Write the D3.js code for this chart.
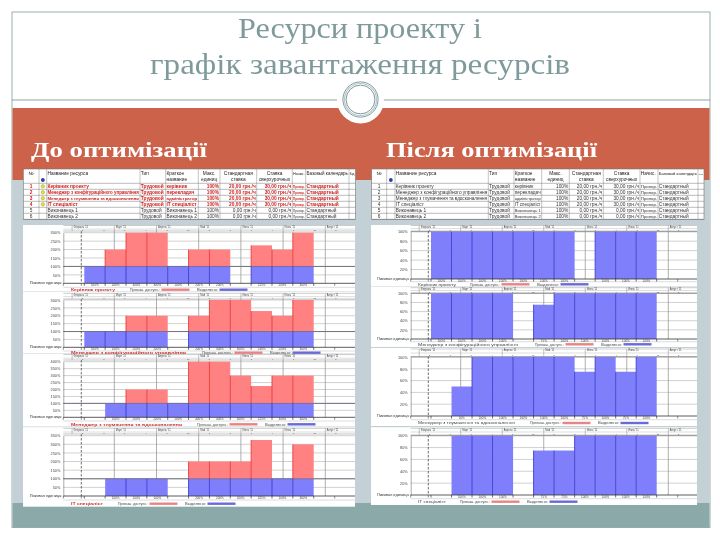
<!DOCTYPE html>
<html><head><meta charset="utf-8">
<style>html,body{margin:0;padding:0;background:#fff}svg{display:block}</style>
<script src="https://cdn.jsdelivr.net/npm/d3@7/dist/d3.min.js"></script></head><body>
<script>
const titleLines = ["Ресурси проекту і", "графік завантаження ресурсів"];
const sideTitles = ["До оптимізації", "Після оптимізації"];
const columns = ["w1","w2","w3","w4","w5","w6","w7","w8","w9","w10","w11"];
const months = ["Февраль '11","Март '11","Апрель '11","Май '11","Июнь '11","Июль '11","Август '11"];
const subTicks = ["5","8","1","4","7","10"];
const headers = ["№","","Название ресурса","Тип","Краткое название","Макс. единиц","Стандартная ставка","Ставка сверхурочных","Начис.","Базовый календарь","Код"];
const ids = ["1","2","3","4","5","6"];
const names = ["Керівник проекту","Менеджер з конфігураційного управління","Менеджер з тлумачення та вдосконалення","IT спеціаліст","Виконавець 1","Виконавець 2"];
const types = ["Трудовой","Трудовой","Трудовой","Трудовой","Трудовой","Трудовой"];
const shorts = ["керівник","перекладач","адміністратор","IT спеціаліст","Виконавець 1","Виконавець 2"];
const maxUnits = ["100%","100%","100%","100%","100%","100%"];
const stdRates = ["20,00 грн./ч","20,00 грн./ч","20,00 грн./ч","20,00 грн./ч","0,00 грн./ч","0,00 грн./ч"];
const otRates = ["30,00 грн./ч","30,00 грн./ч","30,00 грн./ч","30,00 грн./ч","0,00 грн./ч","0,00 грн./ч"];
const accrual = ["Пропор.","Пропор.","Пропор.","Пропор.","Пропор.","Пропор."];
const calendars = ["Стандартный","Стандартный","Стандартный","Стандартный","Стандартный","Стандартный"];
const overRows = [true,true,true,true,false,false];

const legendNames = ["Керівник проекту","Менеджер з конфігураційного управління","Менеджер з тлумачення та вдосконалення","IT спеціаліст"];
const legendOver = "Превыш. доступн.:";
const legendAlloc = "Выделено:";
const peakLabel = "Пиковая единица:";

// Resource load (%), one value per week; null means no assignment
const before1Load = [100,200,300,300,100,200,200,null,225,200,300];
const before2Load = [100,100,200,200,null,200,300,300,230,200,300];
const before3Load = [null,100,200,200,100,400,400,300,225,300,300];
const before4Load = [null,100,100,100,null,200,200,200,325,100,300];
const after1Load  = [100,100,100,100,100,100,100,null,100,100,100];
const after2Load  = [100,100,100,100,null,75,100,100,100,100,100];
const after3Load  = [null,50,100,100,100,100,100,75,100,75,100];
const after4Load  = [null,100,100,100,null,75,75,100,100,100,100];
const before1Ticks = [50,100,150,200,250,300];
const before3Ticks = [50,100,150,200,250,300,350,400];
const before4Ticks = [50,100,150,200,250,300,350];
const afterTicks = [20,40,60,80,100];

const svg = d3.select("body").append("svg").attr("width",720).attr("height",540);
const defs = svg.append("defs");
defs.append("filter").attr("id","soft").attr("x","-2%").attr("y","-2%").attr("width","104%").attr("height","104%")
  .append("feGaussianBlur").attr("stdDeviation",0.38);
defs.append("filter").attr("id","soft2").attr("x","-2%").attr("y","-5%").attr("width","104%").attr("height","110%")
  .append("feGaussianBlur").attr("stdDeviation",0.3);

const frameC = "#7f9b9c";
// slide
svg.append("rect").attr("x",12).attr("y",12).attr("width",698).attr("height",515.5).attr("fill","#fff").attr("stroke",frameC).attr("stroke-width",0.8);
svg.append("rect").attr("x",12.5).attr("y",180).attr("width",697).attr("height",323).attr("fill","#c3d0d5");
svg.append("rect").attr("x",12.5).attr("y",108).attr("width",697).attr("height",72).attr("fill","#cb6249");
svg.append("rect").attr("x",12.5).attr("y",503).attr("width",697).attr("height",24.5).attr("fill","#8aa9a8");
svg.append("line").attr("x1",12).attr("x2",710).attr("y1",100).attr("y2",100).attr("stroke",frameC).attr("stroke-width",0.9);
svg.append("circle").attr("cx",360.5).attr("cy",100).attr("r",23.5).attr("fill","#fff");
svg.append("circle").attr("cx",360.5).attr("cy",99.5).attr("r",17.6).attr("fill","#fff").attr("stroke",frameC).attr("stroke-width",1);
svg.append("circle").attr("cx",360.5).attr("cy",99.5).attr("r",16).attr("fill","#fff").attr("stroke","#b6c7c7").attr("stroke-width",1.2);
svg.append("circle").attr("cx",360.5).attr("cy",99.5).attr("r",14.4).attr("fill","#fff").attr("stroke",frameC).attr("stroke-width",1);

const gTitle = svg.append("g").attr("filter","url(#soft2)");
gTitle.selectAll("text.t").data(titleLines).join("text").attr("class","t")
  .attr("x",360).attr("y",(d,i)=>[38,74][i]).attr("text-anchor","middle")
  .attr("font-family","Liberation Serif").attr("font-size",30).attr("fill","#7f9a9a")
  .attr("textLength",(d,i)=>[244,420][i]).attr("lengthAdjust","spacingAndGlyphs").text(d=>d);
gTitle.selectAll("text.s").data(sideTitles).join("text").attr("class","s")
  .attr("x",(d,i)=>[31,386][i]).attr("y",157)
  .attr("font-family","Liberation Serif").attr("font-weight","bold").attr("font-size",22)
  .attr("fill","#fff").attr("textLength",(d,i)=>[176,211][i]).attr("lengthAdjust","spacingAndGlyphs").text(d=>d);

// shrink a table text when it is wider than its narrow cell
function fit(sel,w){ sel.each(function(){ const n=this.getComputedTextLength(); if(n>w){ d3.select(this).attr("font-size",4.8*w/n); } }); }

// tables
function table(edges, rowFirstRed){
  const g = svg.append("g").attr("filter","url(#soft)");
  const x0=edges[0], x1=edges[edges.length-1], top=169, head=183.3, bot=219.3;
  g.append("rect").attr("x",x0).attr("y",top).attr("width",x1-x0).attr("height",bot-top).attr("fill","#fff").attr("stroke","#777").attr("stroke-width",0.6);
  const rowY = d3.scaleBand().domain(ids).range([head,bot]);
  g.selectAll("line.v").data(edges.slice(1,-1)).join("line").attr("class","v").attr("x1",d=>d).attr("x2",d=>d).attr("y1",top).attr("y2",bot).attr("stroke","#888").attr("stroke-width",0.5);
  g.selectAll("line.h").data([head].concat(ids.map(i=>rowY(i)+rowY.bandwidth()))).join("line").attr("class","h")
    .attr("x1",x0).attr("x2",x1).attr("y1",d=>d).attr("y2",d=>d).attr("stroke","#777").attr("stroke-width",0.5);
  const cols = [ids,null,names,types,shorts,maxUnits,stdRates,otRates,accrual,calendars,null];
  const anchors = ["middle","start","start","start","start","end","end","end","start","start","start"];
  headers.forEach((h,c)=>{
    const w = edges[c+1]-edges[c];
    const words = h.split(" ");
    const center = c>=5 && c<=7;
    const hd = g.append("g").selectAll("text").data(c==2||c==9?[h]:words).join("text")
      .attr("x",edges[c]+(center||c==0?w/2:0.8)).attr("y",(d,i)=>top+5.5+i*6)
      .attr("text-anchor",center||c==0?"middle":"start")
      .attr("font-family","Liberation Sans").attr("font-size",4.8).attr("fill","#222").text(d=>d);
    fit(hd,w-1.8);
    if(cols[c]){
      const v = g.append("g").selectAll("text").data(cols[c]).join("text")
        .attr("x",edges[c]+(anchors[c]=="middle"?w/2:anchors[c]=="end"?w-1:0.8))
        .attr("y",(d,i)=>rowY(ids[i])+4.5).attr("text-anchor",anchors[c])
        .attr("font-family","Liberation Sans").attr("font-size",4.8)
        .attr("font-weight",(d,i)=>rowFirstRed&&overRows[i]?"bold":"normal")
        .attr("fill",(d,i)=>rowFirstRed&&overRows[i]?"#d0201f":"#333").text(d=>d);
      fit(v,w-1.8);
    }
  });
  g.append("circle").attr("cx",(edges[1]+edges[2])/2).attr("cy",180).attr("r",1.9).attr("fill","#2a3fa8");
  if(rowFirstRed) g.selectAll("circle.w").data(ids.filter((d,i)=>overRows[i])).join("circle").attr("class","w")
    .attr("cx",(edges[1]+edges[2])/2).attr("cy",d=>rowY(d)+rowY.bandwidth()/2).attr("r",1.7).attr("fill","#e8e23a").attr("stroke","#8a8a10").attr("stroke-width",0.4);
}
table([23.3,39,46.7,140,165.7,198.3,220,256.7,292.3,305.7,349,355.5],true);
table([371.7,386.7,395,488.3,514,541.7,569.3,603.3,640,658,698,704],false);

// charts
function chart(cfg){
  const g = svg.append("g").attr("filter","url(#soft)");
  const P = cfg.panel;
  g.append("rect").attr("x",P.x0).attr("y",cfg.y0).attr("width",P.x1-P.x0).attr("height",cfg.y1-cfg.y0).attr("fill","#fff");
  const x = d3.scaleBand().domain(columns).range(P.bars);
  const y = d3.scaleLinear().domain([0,cfg.max]).range([cfg.base,cfg.top]);
  const t = d3.scaleLinear().domain([1,6]).range(P.months);
  const cap = v=>Math.min(v,100);
  // horizontal grid
  g.append("g").selectAll("line").data(cfg.ticks).join("line")
    .attr("x1",P.axis).attr("x2",P.x1).attr("y1",d=>y(d)).attr("y2",d=>y(d))
    .attr("stroke",d=>d==100?"#777":"#bdbdbd").attr("stroke-width",d=>d==100?0.8:0.7);
  // month lines
  g.append("g").selectAll("line").data(d3.range(1,7)).join("line")
    .attr("x1",d=>t(d)).attr("x2",d=>t(d)).attr("y1",cfg.hdr).attr("y2",cfg.base)
    .attr("stroke","#9a9a9a").attr("stroke-width",0.8);
  // bars: allocated up to 100%, over-allocation above it
  const rows = columns.map((c,i)=>({c,v:cfg.load[i]})).filter(d=>d.v!==null);
  g.append("g").selectAll("rect").data(rows.filter(d=>d.v>100)).join("rect")
    .attr("x",d=>x(d.c)).attr("width",x.bandwidth()).attr("y",d=>y(d.v)).attr("height",d=>y(100)-y(d.v)).attr("fill","#ff8181");
  g.append("g").selectAll("rect").data(rows).join("rect")
    .attr("x",d=>x(d.c)).attr("width",x.bandwidth()).attr("y",d=>y(cap(d.v))).attr("height",d=>y(0)-y(cap(d.v))).attr("fill","#7f7ffb");
  // bar edges
  const inner = rows.slice(1);
  g.append("g").selectAll("line").data(inner.filter(d=>d.v>100)).join("line")
    .attr("x1",d=>x(d.c)).attr("x2",d=>x(d.c)).attr("y1",d=>y(d.v)).attr("y2",y(100)).attr("stroke","#ea3b3b").attr("stroke-width",0.9);
  g.append("g").selectAll("line").data(inner).join("line")
    .attr("x1",d=>x(d.c)).attr("x2",d=>x(d.c)).attr("y1",d=>y(cap(d.v))).attr("y2",y(0)).attr("stroke","#3d3dcf").attr("stroke-width",0.9);
  // 100% line over red bars
  if(cfg.max>100) g.append("line").attr("x1",P.axis).attr("x2",P.x1).attr("y1",y(100)).attr("y2",y(100)).attr("stroke","#55556e").attr("stroke-width",0.5);
  // current date marker
  g.append("line").attr("x1",P.now).attr("x2",P.now).attr("y1",cfg.hdr).attr("y2",cfg.base).attr("stroke","#333").attr("stroke-width",0.7).attr("stroke-dasharray","2.5,1.5");
  // axis
  const ax = g.append("g").attr("transform",`translate(${P.axis},0)`).call(d3.axisLeft(y).tickValues(cfg.ticks).tickSize(0).tickPadding(3).tickFormat(d=>d+"%"));
  ax.select(".domain").attr("stroke","#555").attr("stroke-width",0.5);
  ax.selectAll("text").attr("font-family","Liberation Sans").attr("font-size",3.8).attr("fill","#444");
  // timescale header
  const hy = cfg.hdr0;
  const h = g.append("g");
  h.append("line").attr("x1",P.axis).attr("x2",P.x1).attr("y1",hy).attr("y2",hy).attr("stroke","#999").attr("stroke-width",0.5);
  h.append("line").attr("x1",P.axis).attr("x2",P.x1).attr("y1",(hy+cfg.top)/2).attr("y2",(hy+cfg.top)/2).attr("stroke","#aaa").attr("stroke-width",0.4);
  h.append("line").attr("x1",P.axis).attr("x2",P.x1).attr("y1",cfg.hdr).attr("y2",cfg.hdr).attr("stroke","#888").attr("stroke-width",0.5);
  h.selectAll("text.m").data(months).join("text").attr("class","m")
    .attr("x",(d,i)=>t(i)+1.5).attr("y",hy+2.4).attr("font-family","Liberation Sans").attr("font-size",2.6).attr("fill","#444").text(d=>d);
  h.selectAll("text.n").data(d3.range(0,13)).join("text").attr("class","n")
    .attr("x",d=>t(d/2+0.25)).attr("y",cfg.hdr-0.2).attr("text-anchor","middle").attr("font-family","Liberation Sans").attr("font-size",2.2).attr("fill","#444")
    .text(d=>t(d/2+0.25)<P.x1-2?subTicks[d%subTicks.length]:"");
  h.selectAll("line.mt").data(d3.range(0,7)).join("line").attr("class","mt")
    .attr("x1",d=>t(d)).attr("x2",d=>t(d)).attr("y1",hy).attr("y2",cfg.hdr).attr("stroke","#888").attr("stroke-width",0.5)
    .attr("opacity",d=>t(d)>P.axis?1:0);
  // peak row
  const by = cfg.bottom;
  g.append("line").attr("x1",P.axis).attr("x2",P.x1).attr("y1",cfg.base).attr("y2",cfg.base).attr("stroke","#333").attr("stroke-width",0.8);
  g.append("line").attr("x1",P.axis).attr("x2",P.x1).attr("y1",by).attr("y2",by).attr("stroke","#bbb").attr("stroke-width",0.5);
  g.append("g").selectAll("line").data(columns.concat(["e"])).join("line")
    .attr("x1",d=>d=="e"?P.bars[1]:x(d)).attr("x2",d=>d=="e"?P.bars[1]:x(d)).attr("y1",cfg.base).attr("y2",cfg.base+2.5).attr("stroke","#333").attr("stroke-width",0.7);
  g.append("g").selectAll("line").data([P.axis,P.now,P.bars[1]+21]).join("line")
    .attr("x1",d=>d).attr("x2",d=>d).attr("y1",cfg.base).attr("y2",cfg.base+2.5).attr("stroke","#444").attr("stroke-width",0.6);
  g.append("g").selectAll("text").data(rows).join("text")
    .attr("x",d=>x(d.c)+x.bandwidth()/2).attr("y",cfg.base+2.6).attr("text-anchor","middle")
    .attr("font-family","Liberation Sans").attr("font-size",3).attr("fill","#444").text(d=>d.v+"%");
  g.append("text").attr("x",P.axis-1).attr("y",cfg.base+0.8).attr("text-anchor","end").attr("font-family","Liberation Sans").attr("font-size",3.9).attr("fill","#333").text(peakLabel);
  // legend
  const L = cfg.legend, ly = cfg.legY, fs = 3.4;
  g.append("text").attr("x",L[0]).attr("y",ly+1.2).attr("font-family","Liberation Sans").attr("font-size",fs)
    .attr("font-weight",cfg.red?"bold":"normal").attr("fill",cfg.red?"#cc3333":"#444").attr("textLength",L[1]-L[0]).attr("lengthAdjust","spacingAndGlyphs").text(cfg.name);
  g.append("text").attr("x",L[2]).attr("y",ly+1.2).attr("font-family","Liberation Sans").attr("font-size",fs).attr("fill","#444").attr("textLength",L[3]-L[2]).attr("lengthAdjust","spacingAndGlyphs").text(legendOver);
  g.append("rect").attr("x",L[3]+1.5).attr("y",ly-1.2).attr("width",28).attr("height",2.4).attr("fill","#ea8484");
  g.append("text").attr("x",L[4]).attr("y",ly+1.2).attr("font-family","Liberation Sans").attr("font-size",fs).attr("fill","#444").attr("textLength",L[5]-L[4]).attr("lengthAdjust","spacingAndGlyphs").text(legendAlloc);
  g.append("rect").attr("x",L[5]+1.5).attr("y",ly-1.2).attr("width",28).attr("height",2.4).attr("fill","#6b6bd8");
}
const LP = {x0:23,x1:355,axis:63.3,now:81.3,bars:[84.3,313.7],months:[114.3,325.3]};
const RP = {x0:371,x1:697,axis:410.7,now:428.3,bars:[431,656.7],months:[460.7,668.3]};
[
 {panel:LP,load:before1Load,max:300,ticks:before1Ticks,y0:225,y1:291.5,hdr0:225.5,hdr:231,top:232.7,base:283.3,bottom:287.3,legY:289.7,name:legendNames[0],legend:[71,115,130,160,197,218],red:true},
 {panel:LP,load:before2Load,max:300,ticks:before1Ticks,y0:292,y1:353.5,hdr0:293.3,hdr:299,top:300,base:347.3,bottom:351,legY:352.7,name:legendNames[1],legend:[71,186,202,233,270,291],red:true},
 {panel:LP,load:before3Load,max:400,ticks:before3Ticks,y0:354,y1:426.5,hdr0:354.6,hdr:360,top:361.7,base:417.3,bottom:421,legY:424.3,name:legendNames[2],legend:[71,182,197,228,265,286],red:true},
 {panel:LP,load:before4Load,max:350,ticks:before4Ticks,y0:427.2,y1:506.7,hdr0:428.3,hdr:434,top:435.7,base:496,bottom:500,legY:503.7,name:legendNames[3],legend:[71,103,118,148,185,206],red:true},
 {panel:RP,load:after1Load,max:100,ticks:afterTicks,y0:225,y1:286.5,hdr0:225.5,hdr:231,top:231.7,base:279,bottom:281.7,legY:284.3,name:legendNames[0],legend:[418,456,470,500,537,559],red:false},
 {panel:RP,load:after2Load,max:100,ticks:afterTicks,y0:287,y1:347,hdr0:287.7,hdr:293,top:293.3,base:339,bottom:341.7,legY:344.3,name:legendNames[1],legend:[418,518,535,564,601,622],red:false},
 {panel:RP,load:after3Load,max:100,ticks:afterTicks,y0:348,y1:426,hdr0:349,hdr:356.5,top:357,base:416,bottom:419.7,legY:423,name:legendNames[2],legend:[418,515,530,561,598,619],red:false},
 {panel:RP,load:after4Load,max:100,ticks:afterTicks,y0:427.2,y1:505,hdr0:428.3,hdr:435,top:435.7,base:495,bottom:498.7,legY:501.7,name:legendNames[3],legend:[418,446,460,490,527,548],red:false}
].forEach(chart);
</script></body></html>
